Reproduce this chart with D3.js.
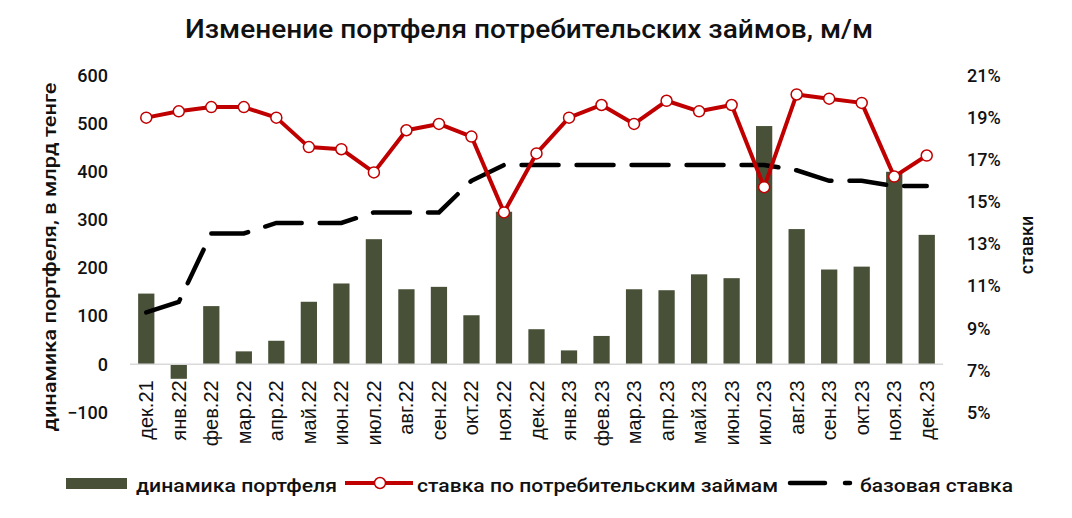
<!DOCTYPE html>
<html>
<head>
<meta charset="utf-8">
<script src="https://cdn.jsdelivr.net/npm/d3@7"></script>
<style>
  html, body { margin: 0; padding: 0; background: #fff; }
  svg { display: block; }
  text { font-family: Roboto, "DejaVu Sans", sans-serif; fill: #111; }
</style>
</head>
<body>
<script>
const categories = ["дек.21","янв.22","фев.22","мар.22","апр.22","май.22","июн.22","июл.22","авг.22","сен.22","окт.22","ноя.22","дек.22",
  "янв.23","фев.23","мар.23","апр.23","май.23","июн.23","июл.23","авг.23","сен.23","окт.23","ноя.23","дек.23"];
const portfolio = [147,-30,121,27,49,130,168,260,156,161,102,317,73,29,59,156,154,187,179,495,281,197,203,400,269];
const consumerRate = [19.0,19.3,19.5,19.5,19.0,17.6,17.5,16.4,18.4,18.7,18.1,14.5,17.3,19.0,19.6,18.7,19.8,19.3,19.6,15.7,20.1,19.9,19.7,16.2,17.2];
const baseRate = [9.75,10.25,13.5,13.5,14.0,14.0,14.0,14.5,14.5,14.5,16.0,16.75,16.75,16.75,16.75,16.75,16.75,16.75,16.75,16.75,16.5,16.0,16.0,15.75,15.75];
const leftTicks = [-100,0,100,200,300,400,500,600];
const rightTicks = [5,7,9,11,13,15,17,19,21];

const W = 1072, H = 518;
const svg = d3.select("body").append("svg").attr("width", W).attr("height", H);

const x = d3.scaleBand().domain(categories).range([130, 943]).paddingInner(0.5).paddingOuter(0.25);
const yL = d3.scaleLinear().domain([-100, 600]).range([412.5, 75.5]);
const yR = d3.scaleLinear().domain([5, 21]).range([412.5, 75.5]);

const BAR = "#485138", RED = "#c00000";

// title
svg.append("text").attr("x", 185).attr("y", 38)
  .attr("textLength", 688).attr("lengthAdjust", "spacingAndGlyphs")
  .style("font-size", "25px").style("font-weight", 500)
  .text("Изменение портфеля потребительских займов, м/м");

// bars
svg.append("g").selectAll("rect").data(portfolio).join("rect")
  .attr("x", (d, i) => x(categories[i]))
  .attr("width", x.bandwidth())
  .attr("y", d => Math.min(yL(d), yL(0)))
  .attr("height", d => Math.abs(yL(d) - yL(0)))
  .attr("fill", BAR);

// zero line
svg.append("line").attr("x1", 130).attr("x2", 943).attr("y1", yL(0)).attr("y2", yL(0))
  .attr("stroke", "#d9d9d9").attr("stroke-width", 1.5);

const cx = i => x(categories[i]) + x.bandwidth() / 2;

// base rate dashed line
svg.append("path").datum(baseRate)
  .attr("d", d3.line().x((d, i) => cx(i)).y(d => yR(d)))
  .attr("fill", "none").attr("stroke", "#000").attr("stroke-width", 4.5)
  .attr("stroke-dasharray", "37,18").attr("stroke-linecap", "round");

// consumer rate line
svg.append("path").datum(consumerRate)
  .attr("d", d3.line().x((d, i) => cx(i)).y(d => yR(d)))
  .attr("fill", "none").attr("stroke", RED).attr("stroke-width", 4)
  .attr("stroke-linejoin", "round");
svg.append("g").selectAll("circle").data(consumerRate).join("circle")
  .attr("cx", (d, i) => cx(i)).attr("cy", d => yR(d)).attr("r", 5.5)
  .attr("fill", "#fff").attr("stroke", RED).attr("stroke-width", 1.5);

// left axis
const gl = svg.append("g").attr("transform", "translate(108,0)")
  .call(d3.axisLeft(yL).tickValues(leftTicks).tickSize(0).tickPadding(0).tickFormat(d3.format("d")));
gl.select(".domain").remove();
gl.selectAll("text").style("font-size", "18px").style("font-weight", 500).style("font-family", "Roboto").attr("fill", "#111");

// right axis
const gr = svg.append("g").attr("transform", "translate(967,0)")
  .call(d3.axisRight(yR).tickValues(rightTicks).tickSize(0).tickPadding(0).tickFormat(d => d + "%"));
gr.select(".domain").remove();
gr.selectAll("text").style("font-size", "18px").style("font-weight", 500).style("font-family", "Roboto").attr("fill", "#111");

// x axis labels
const gx = svg.append("g").attr("transform", `translate(0,${yL(0)})`)
  .call(d3.axisBottom(x).tickSize(0).tickPadding(0));
gx.select(".domain").remove();
gx.selectAll("text")
  .attr("transform", "rotate(-90)")
  .attr("x", -16).attr("y", 0).attr("dy", "0.35em")
  .style("text-anchor", "end")
  .style("font-family", "'Liberation Sans', Arial, sans-serif")
  .style("font-size", "20px").attr("fill", "#111");

// axis titles
svg.append("text").attr("transform", "translate(56,257) rotate(-90)")
  .attr("text-anchor", "middle").attr("textLength", 349).attr("lengthAdjust", "spacingAndGlyphs")
  .style("font-size", "18px").style("font-weight", 500)
  .text("динамика портфеля, в млрд тенге");
svg.append("text").attr("transform", "translate(1033,245) rotate(-90)")
  .attr("text-anchor", "middle")
  .style("font-size", "18px").style("font-weight", 500)
  .text("ставки");

// legend
const lg = svg.append("g");
lg.append("rect").attr("x", 66).attr("y", 478).attr("width", 61).attr("height", 11).attr("fill", BAR);
lg.append("text").attr("x", 136).attr("y", 492).attr("textLength", 201).attr("lengthAdjust", "spacingAndGlyphs")
  .style("font-size", "18px").style("font-weight", 500).text("динамика портфеля");
lg.append("line").attr("x1", 345).attr("x2", 413).attr("y1", 483).attr("y2", 483)
  .attr("stroke", RED).attr("stroke-width", 4);
lg.append("circle").attr("cx", 380).attr("cy", 483).attr("r", 5.5)
  .attr("fill", "#fff").attr("stroke", RED).attr("stroke-width", 1.5);
lg.append("text").attr("x", 417).attr("y", 492).attr("textLength", 361).attr("lengthAdjust", "spacingAndGlyphs")
  .style("font-size", "18px").style("font-weight", 500).text("ставка по потребительским займам");
lg.append("line").attr("x1", 790).attr("x2", 850).attr("y1", 483).attr("y2", 483)
  .attr("stroke", "#000").attr("stroke-width", 4.5).attr("stroke-dasharray", "35,20").attr("stroke-linecap", "round");
lg.append("text").attr("x", 860).attr("y", 492).attr("textLength", 153).attr("lengthAdjust", "spacingAndGlyphs")
  .style("font-size", "18px").style("font-weight", 500).text("базовая ставка");
</script>
</body>
</html>
